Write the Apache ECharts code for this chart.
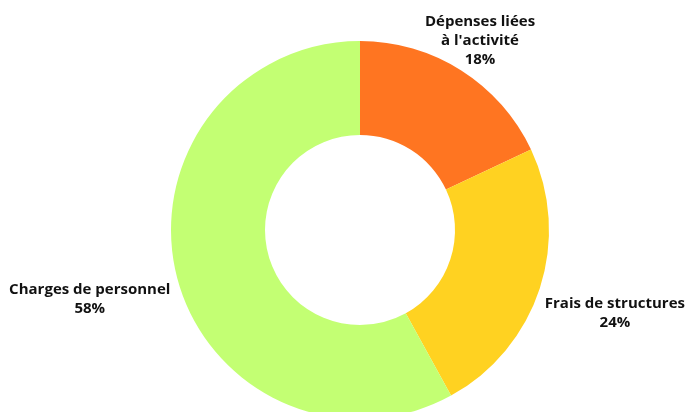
<!DOCTYPE html>
<html>
<head>
<meta charset="utf-8">
<script src="https://cdn.jsdelivr.net/npm/echarts@6/dist/echarts.min.js"></script>
<style>
html,body{margin:0;padding:0;background:#fff;}
#chart{width:687px;height:412px;}
</style>
</head>
<body>
<div id="chart"></div>
<script>
const categories = ["Dépenses liées\nà l'activité", "Frais de structures", "Charges de personnel"];
const values = [18, 24, 58];
const colors = ["#FF7521", "#FFD221", "#C3FF73"];

// layout / style settings
const CENTER = [360, 230];
const RADIUS = [95, 189];
const labelRadius = [224, 268, 279];

const total = values.reduce((a, b) => a + b, 0);
let acc = 0;
const midAngles = values.map(v => { const m = acc + v / 2; acc += v; return m / total * 2 * Math.PI; });

const chart = echarts.init(document.getElementById('chart'), null, {renderer: 'canvas'});
chart.setOption({
  animation: false,
  backgroundColor: '#fff',
  series: [{
    type: 'pie',
    center: CENTER,
    radius: RADIUS,
    startAngle: 90,
    clockwise: true,
    avoidLabelOverlap: false,
    data: categories.map((c, i) => ({name: c, value: values[i], itemStyle: {color: colors[i]}})),
    itemStyle: {borderWidth: 0},
    emphasis: {disabled: true},
    label: {
      show: true,
      position: 'outside',
      color: '#111',
      fontFamily: 'Open Sans',
      fontWeight: 'bold',
      fontSize: 15,
      lineHeight: 19,
      formatter: p => p.name + '\n' + Math.round(p.percent) + '%'
    },
    labelLine: {show: false},
    labelLayout: function (params) {
      const i = params.dataIndex;
      const a = midAngles[i];
      const r = labelRadius[i];
      return {
        x: CENTER[0] + r * Math.sin(a),
        y: CENTER[1] - r * Math.cos(a),
        align: 'center',
        verticalAlign: 'middle'
      };
    }
  }]
});
</script>
</body>
</html>
